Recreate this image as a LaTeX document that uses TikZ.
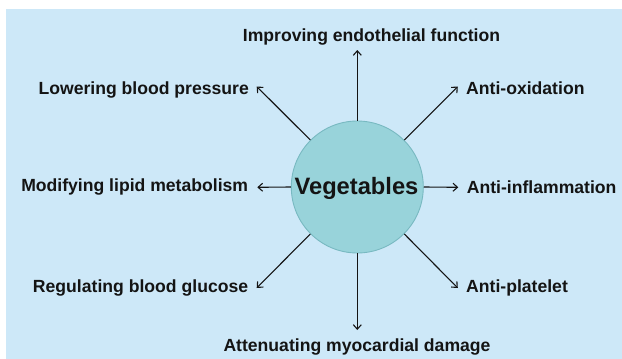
\documentclass[tikz,border=0pt]{standalone}
\usepackage{fontspec}
\setmainfont{Liberation Sans}
\usetikzlibrary{arrows.meta}
\definecolor{bgblue}{RGB}{205,232,248}
\definecolor{circfill}{RGB}{152,211,218}
\definecolor{circdraw}{RGB}{120,185,193}
\definecolor{txt}{RGB}{20,20,20}
\tikzset{
  lbl/.style={inner sep=0pt, text=txt, font=\fontsize{17.6}{20}\selectfont\bfseries},
  conn/.style={draw=txt, line width=1.1pt, -{Straight Barb[length=4.5pt,width=8pt]}},
}
\begin{document}
\begin{tikzpicture}[x=1pt,y=-1pt]
\useasboundingbox (0,0) rectangle (622,359);
\fill[white] (0,0) rectangle (622,359);
\fill[bgblue] (6,9) rectangle (622,359);
\node[circle, minimum size=132pt, inner sep=0pt, fill=circfill, draw=circdraw, line width=0.9pt] (veg) at (357.3,187) {};
\node[inner sep=0pt, anchor=base, text=txt, font=\fontsize{23.7}{26}\selectfont\bfseries] (vtext) at (356.5,194) {Vegetables};
% labels
\node[lbl, anchor=base] (top) at (371.5,41.7) {Improving endothelial function};
\node[lbl, anchor=base east] (nw) at (249,94) {Lowering blood pressure};
\node[lbl, anchor=base west] (ne) at (466,94) {Anti-oxidation};
\node[lbl, anchor=base east] (w) at (248.3,191.7) {Modifying lipid metabolism};
\node[lbl, anchor=base west] (e) at (466.7,193.3) {Anti-inflammation};
\node[lbl, anchor=base east] (sw) at (248.3,292.7) {Regulating blood glucose};
\node[lbl, anchor=base west] (se) at (466,292.7) {Anti-platelet};
\node[lbl, anchor=base] (bot) at (357,351.7) {Attenuating myocardial damage};
% arrow tips
\coordinate (tTop) at (357.3,50);
\coordinate (tNW) at (256.7,86.5);
\coordinate (tNE) at (457.8,86.5);
\coordinate (tW) at (257.3,187.3);
\coordinate (tE) at (458.3,187.3);
\coordinate (tSW) at (256.7,288);
\coordinate (tSE) at (457.8,288);
\coordinate (tBot) at (357.3,330);
% connectors
\draw[conn] (veg.90) -- (tTop);
\draw[conn] (veg.135) -- (tNW);
\draw[conn] (veg.45) -- (tNE);
\draw[conn] (veg.180) -- (tW);
\draw[conn] (veg.0) -- (tE);
\draw[conn] (veg.225) -- (tSW);
\draw[conn] (veg.315) -- (tSE);
\draw[conn] (veg.270) -- (tBot);
\end{tikzpicture}
\end{document}
